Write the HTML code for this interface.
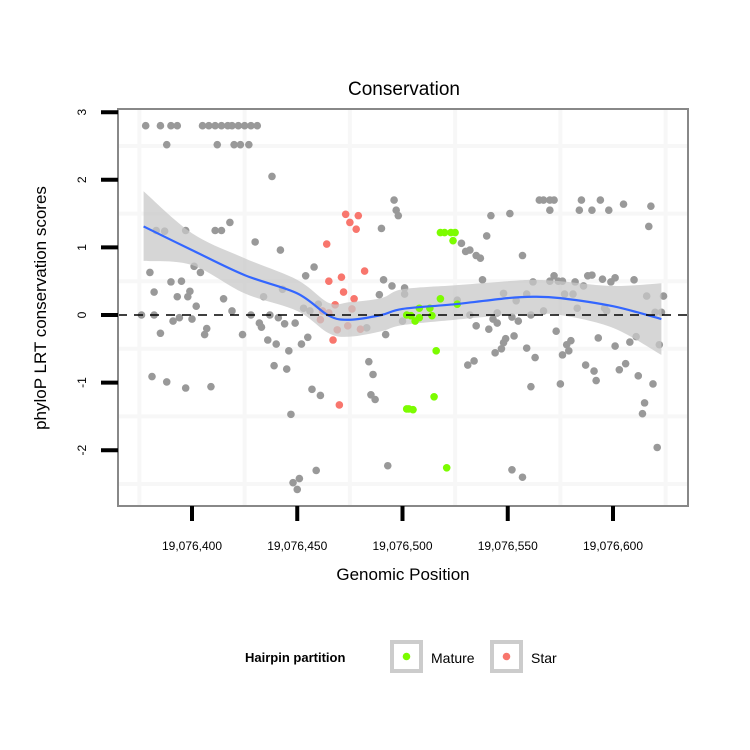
<!DOCTYPE html>
<html><head><meta charset="utf-8"><style>
body{margin:0;background:#fff;}
svg{display:block;font-family:"Liberation Sans",sans-serif;}
</style></head><body>
<svg id="chart" width="750" height="750" viewBox="0 0 750 750" xmlns="http://www.w3.org/2000/svg"></svg>
<script>
// Data (positions offset from 19,076,000)
const grayPos=[378,385,390,393,405,408,411,414,417,419,422,425,428,431,388,412,420,423,427,438,496,497,498,383,387,397,411,414,418,490,430,442,380,401,404,454,458,390,395,382,399,398,393,402,415,443,434,491,495,489,501,501,460,453,456,419,376,382,394,391,400,428,437,432,433,441,444,449,385,407,406,424,436,440,452,455,446,483,492,500,484,486,485,487,381,388,397,409,439,445,457,461,447,493,459,448,451,450,
565,567,570,572,585,594,570,584,590,598,605,618,617,542,551,540,528,530,532,535,537,557,538,562,570,574,576,572,582,586,588,590,595,599,601,610,526,548,554,559,577,581,583,616,624,596,597,620,623,561,567,545,543,545,532,552,555,535,541,573,553,549,548,544,547,559,563,580,578,579,576,593,601,608,611,622,531,534,587,591,592,603,606,612,619,561,575,615,614,621,552,557];
const grayVal=[2.8,2.8,2.8,2.8,2.8,2.8,2.8,2.8,2.8,2.8,2.8,2.8,2.8,2.8,2.52,2.52,2.52,2.52,2.52,2.05,1.7,1.55,1.47,1.25,1.24,1.25,1.25,1.25,1.37,1.28,1.08,0.96,0.63,0.72,0.63,0.58,0.71,0.49,0.5,0.34,0.35,0.27,0.27,0.13,0.24,0.38,0.27,0.52,0.43,0.3,0.4,0.31,0.16,0.1,0.06,0.06,0,0,-0.04,-0.09,-0.06,0,0,-0.12,-0.18,-0.04,-0.13,-0.12,-0.27,-0.2,-0.29,-0.29,-0.37,-0.43,-0.43,-0.33,-0.53,-0.19,-0.29,-0.09,-0.69,-0.88,-1.18,-1.25,-0.91,-0.99,-1.08,-1.06,-0.75,-0.8,-1.1,-1.19,-1.47,-2.23,-2.3,-2.48,-2.42,-2.58,
1.7,1.7,1.7,1.7,1.7,1.7,1.55,1.55,1.55,1.55,1.64,1.61,1.31,1.47,1.5,1.17,1.06,0.94,0.96,0.88,0.84,0.88,0.52,0.49,0.5,0.5,0.5,0.58,0.49,0.43,0.58,0.59,0.53,0.49,0.55,0.52,0.22,0.32,0.21,0.31,0.31,0.31,0.1,0.28,0.28,0.1,0.06,0.04,0.04,0,0.06,0.03,-0.06,-0.12,0,-0.03,-0.09,-0.16,-0.21,-0.24,-0.31,-0.35,-0.41,-0.56,-0.5,-0.49,-0.63,-0.38,-0.44,-0.53,-0.59,-0.34,-0.46,-0.4,-0.32,-0.44,-0.74,-0.68,-0.74,-0.83,-0.97,-0.81,-0.72,-0.9,-1.02,-1.06,-1.02,-1.3,-1.46,-1.96,-2.29,-2.4];
const starPos=[473,479,475,478,464,482,465,471,472,477,468,462,465,461,476,469,474,480,467,470];
const starVal=[1.49,1.47,1.37,1.27,1.05,0.65,0.5,0.56,0.34,0.24,0.15,0.06,0.03,-0.07,0.09,-0.22,-0.16,-0.21,-0.37,-1.33];
const maturePos=[502,502,518,520,523,525,524,518,526,508,513,504,506,508,514,516,515,503,505,521];
const matureVal=[0,-1.39,1.22,1.22,1.22,1.22,1.1,0.24,0.16,0.1,0.1,-0.01,-0.09,-0.04,-0.01,-0.53,-1.21,-1.39,-1.4,-2.26];
const smoothPos=[377,400,425,450,465,475,490,500,525,550,562,575,600,623];
const smoothFit=[1.31,0.96,0.59,0.32,-0.01,-0.07,0,0.09,0.16,0.25,0.27,0.25,0.13,-0.06];
const smoothLo=[0.8,0.74,0.32,0.06,-0.27,-0.32,-0.24,-0.15,-0.07,0,0.01,0,-0.19,-0.59];
const smoothHi=[1.83,1.21,0.84,0.52,0.18,0.19,0.25,0.38,0.44,0.5,0.52,0.5,0.43,0.47];
const xTicks=[400,450,500,550,600];
const xTickLabels=["19,076,400","19,076,450","19,076,500","19,076,550","19,076,600"];
const yTicks=[3,2,1,0,-1,-2];
const yTickLabels=["3","2","1","0","-1","-2"];

const svg=document.getElementById('chart');
const NS='http://www.w3.org/2000/svg';
const L=118,R=688,T=109,B=506;
function sx(p){return 192+(p-400)*2.105;}
function sy(v){return 315-v*67.6;}
function mk(tag,attrs,parent){const e=document.createElementNS(NS,tag);for(const k in attrs)e.setAttribute(k,attrs[k]);(parent||svg).appendChild(e);return e;}
function curve(pts,start){
  let d=(start?'M':'L')+pts[0][0]+','+pts[0][1];
  for(let i=0;i<pts.length-1;i++){
    const p0=pts[Math.max(0,i-1)],p1=pts[i],p2=pts[i+1],p3=pts[Math.min(pts.length-1,i+2)];
    const c1x=p1[0]+(p2[0]-p0[0])/6,c1y=p1[1]+(p2[1]-p0[1])/6;
    const c2x=p2[0]-(p3[0]-p1[0])/6,c2y=p2[1]-(p3[1]-p1[1])/6;
    d+='C'+c1x+','+c1y+' '+c2x+','+c2y+' '+p2[0]+','+p2[1];
  }
  return d;
}

let t=mk('text',{x:404,y:95,'font-size':19,'text-anchor':'middle',fill:'#000'});t.textContent='Conservation';



const panel=mk('g',{});


[375,425,475,525,575,625].forEach(p=>{const g=mk('line',{x1:sx(p),x2:sx(p),y1:T,y2:B,stroke:'#f7f7f7','stroke-width':4},panel);

});
[2.5,1.5,0.5,-0.5,-1.5,-2.5].forEach(v=>{const g=mk('line',{x1:L,x2:R,y1:sy(v),y2:sy(v),stroke:'#f7f7f7','stroke-width':4},panel);

});

function drawPts(ps,vs,col,name){ps.forEach((p,i)=>{const c=mk('circle',{cx:sx(p),cy:sy(vs[i]),r:3.8,fill:col},panel);

});}
drawPts(grayPos,grayVal,'#999999','point-other');
drawPts(starPos,starVal,'#f8766d','point-star');

const hi=smoothPos.map((p,i)=>[sx(p),sy(smoothHi[i])]);
const lo=smoothPos.map((p,i)=>[sx(p),sy(smoothLo[i])]).reverse();
const band=mk('path',{d:curve(hi,true)+curve(lo,false)+'Z',fill:'#c8c8c8','fill-opacity':0.75},panel);


drawPts(maturePos,matureVal,'#7cfc00','point-mature');
const ln=mk('path',{d:curve(smoothPos.map((p,i)=>[sx(p),sy(smoothFit[i])]),true),fill:'none',stroke:'#3366ff','stroke-width':2.2},panel);


const zl=mk('line',{x1:L,x2:R,y1:sy(0),y2:sy(0),stroke:'#000','stroke-width':1.6,'stroke-dasharray':'9,7'},panel);


const border=mk('rect',{x:L,y:T,width:R-L,height:B-T,fill:'none',stroke:'#888','stroke-width':2},panel);



xTicks.forEach((p,i)=>{const tk=mk('line',{x1:sx(p),x2:sx(p),y1:B,y2:B+15,stroke:'#000','stroke-width':4});


const lb=mk('text',{x:sx(p),y:550,'font-size':12,'text-anchor':'middle',fill:'#000'});lb.textContent=xTickLabels[i];

});
yTicks.forEach((v,i)=>{const tk=mk('line',{x1:L-17,x2:L,y1:sy(v),y2:sy(v),stroke:'#000','stroke-width':4});


const lb=mk('text',{x:0,y:0,'font-size':12,'text-anchor':'middle',fill:'#000',transform:'translate(86,'+sy(v)+') rotate(-90)'});lb.textContent=yTickLabels[i];

});

t=mk('text',{x:403,y:580,'font-size':17,'text-anchor':'middle',fill:'#000'});t.textContent='Genomic Position';


t=mk('text',{x:0,y:0,'font-size':17,'text-anchor':'middle',fill:'#000',transform:'translate(46,308) rotate(-90)'});t.textContent='phyloP LRT conservation scores';



const leg=mk('g',{});


t=mk('text',{x:245,y:662,'font-size':13,'font-weight':'bold',fill:'#000'},leg);t.textContent='Hairpin partition';


[['Mature','#7cfc00',390],['Star','#f8766d',490]].forEach(e=>{
const g=mk('g',{},leg);


mk('rect',{x:e[2]+2,y:642,width:29,height:29,fill:'#fff',stroke:'#cccccc','stroke-width':4},g);
mk('circle',{cx:e[2]+16.5,cy:656.5,r:3.8,fill:e[1]},g);
const tx=mk('text',{x:e[2]+41,y:663,'font-size':14,fill:'#000'},g);tx.textContent=e[0];});
</script>
</body></html>
